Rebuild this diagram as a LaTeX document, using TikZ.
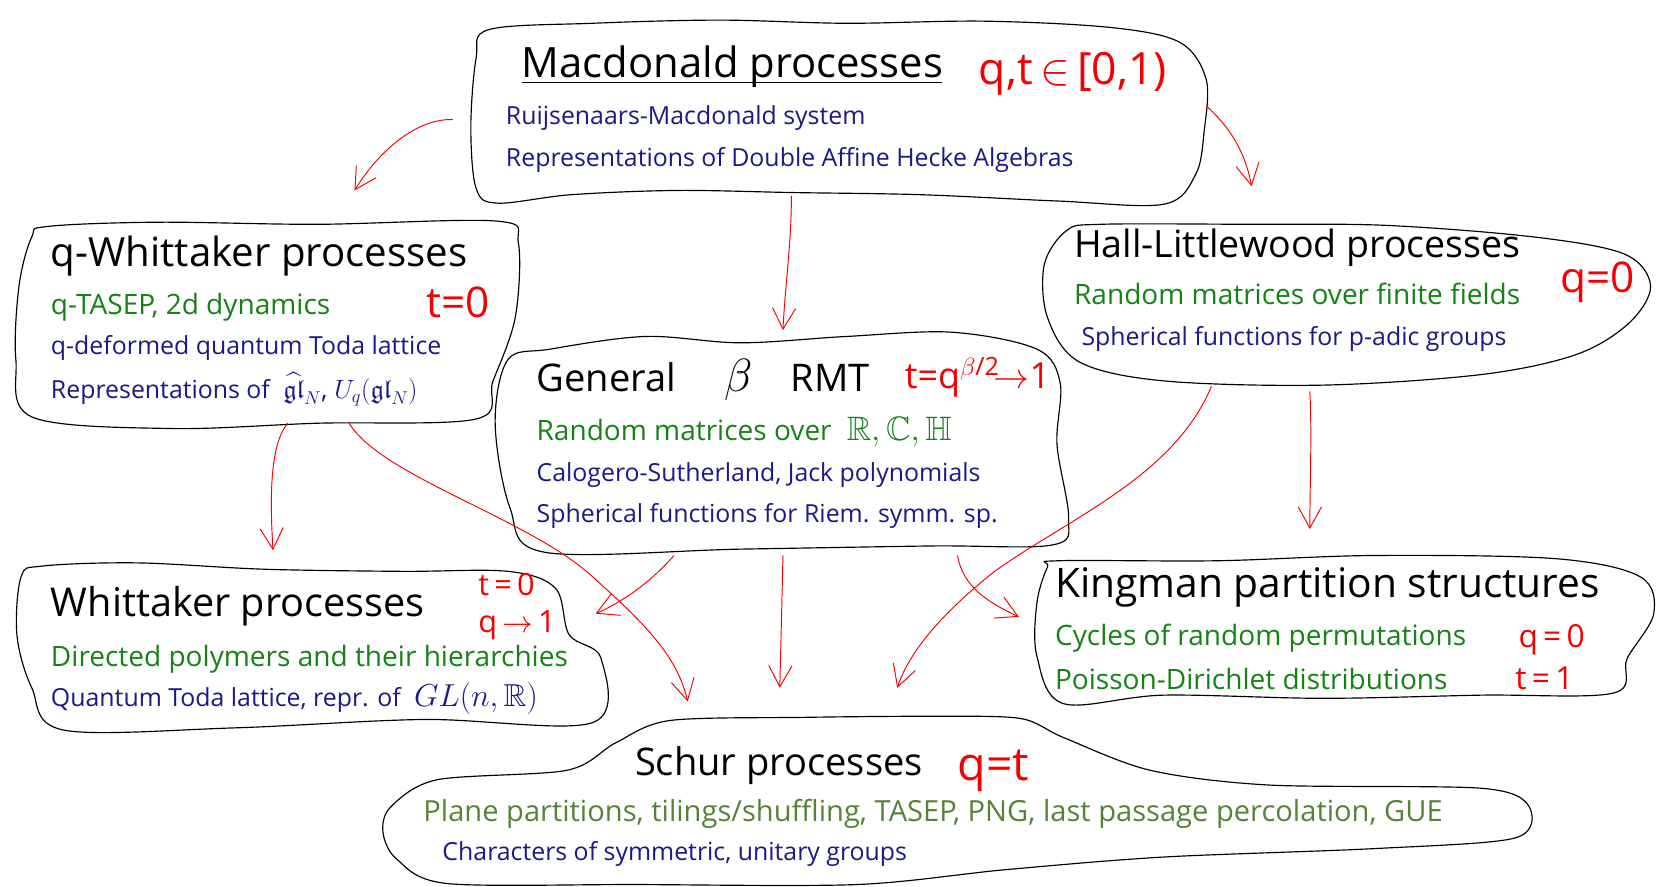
\RequirePackage{fix-cm}
\documentclass[tikz,border=0pt]{standalone}
\usepackage{amssymb,amsfonts}
\DeclareFontFamily{U}{msb}{}
\DeclareFontShape{U}{msb}{m}{n}{<->msbm10}{}
\DeclareFontFamily{U}{euf}{}
\DeclareFontShape{U}{euf}{m}{n}{<->eufm10}{}
\usepackage{fontspec}
\setmainfont{Open Sans}
\usetikzlibrary{arrows.meta}
\definecolor{tgreen}{RGB}{20,130,20}
\definecolor{tblue}{RGB}{25,25,135}
\definecolor{tolive}{RGB}{85,130,55}
\definecolor{tred}{RGB}{245,0,0}
\begin{document}
\begin{tikzpicture}[x=1pt,y=-1pt,
  blob/.style={draw=black, line width=1.1pt},
  ttl/.style={anchor=base west, inner sep=0pt, text=black, font=\fontsize{36}{42}\selectfont},
  gtx/.style={anchor=base west, inner sep=0pt, text=tgreen, font=\fontsize{26.5}{30}\selectfont},
  btx/.style={anchor=base west, inner sep=0pt, text=tblue, font=\fontsize{23.5}{28}\selectfont},
  rtx/.style={anchor=base west, inner sep=0pt, text=tred, font=\fontsize{40}{46}\selectfont},
  conn/.style={draw=tred, line width=0.9pt, -{Straight Barb[length=20pt,width=22pt,line width=0.9pt]}}]
\useasboundingbox (0,0) rectangle (1568,838);

% ---------- boxes ----------
\draw[blob] plot[smooth cycle, tension=0.55] coordinates {
 (462,28) (560,22) (680,19) (800,22) (930,20) (1050,26) (1115,40) (1140,75) (1138,125) (1130,165) (1100,193)
 (1000,190) (870,184) (750,182) (640,180) (540,184) (470,192) (450,178) (445,120) (450,55)};
\draw[blob] plot[smooth cycle, tension=0.55] coordinates {
 (45,214) (150,210) (300,212) (470,209) (490,230) (487,300) (466,360) (450,396)
 (300,400) (160,405) (30,394) (15,340) (18,270) (30,224)};
\draw[blob] plot[smooth cycle, tension=0.55] coordinates {
 (1040,212) (1180,212) (1310,213) (1450,224) (1535,240) (1560,270) (1540,305) (1490,335)
 (1400,354) (1250,364) (1100,360) (1020,342) (990,300) (987,250) (1008,218)};
\draw[blob] plot[smooth cycle, tension=0.55] coordinates {
 (520,330) (610,318) (700,324) (800,318) (900,314) (980,330) (1002,362) (999,420) (1010,490) (995,515)
 (880,516) (700,519) (515,522) (482,480) (468,400) (480,340)};
\draw[blob] plot[smooth cycle, tension=0.55] coordinates {
 (40,535) (130,532) (250,538) (380,540) (480,540) (525,556) (538,600) (568,622) (560,683)
 (400,680) (220,688) (60,690) (30,650) (16,600) (20,545)};
\draw[blob] plot[smooth cycle, tension=0.55] coordinates {
 (1000,530) (1150,530) (1300,525) (1470,528) (1550,545) (1563,580) (1538,622) (1525,655)
 (1400,657) (1250,660) (1100,657) (1005,665) (980,620) (980,570) (990,536)};
\draw[blob] plot[smooth cycle, tension=0.5] coordinates {
 (633,681) (760,678) (880,677) (964,679) (1005,697) (1087,728) (1200,742) (1400,745) (1445,762) (1432,792)
 (1300,802) (1100,810) (950,822) (810,836) (600,836) (422,835) (375,812) (362,787) (369,763) (413,737)
 (536,728) (582,702)};

% ---------- texts ----------
\node[ttl, font=\fontsize{39.5}{44}\selectfont] (mact) at (493,73) {Macdonald processes};
\draw[line width=1.3pt] (mact.base west) ++(0,5) -- ++(397,0);
\node[rtx, font=\fontsize{42}{48}\selectfont] (macr) at (925,80) {q,t\,$\in$\,[0,1)};
\node[btx] (mac1) at (478,118) {Ruijsenaars-Macdonald system};
\node[btx] (mac2) at (478,157) {Representations of Double Affine Hecke Algebras};

\node[ttl, font=\fontsize{38}{44}\selectfont] (qwt) at (48,252) {q-Whittaker processes};
\node[rtx] (qwr) at (403,300) {t=0};
\node[gtx] (qw1) at (48,297) {q-TASEP, 2d dynamics};
\node[btx] (qw2) at (48,335) {q-deformed quantum Toda lattice};
\node[btx] (qw3) at (48,377) {Representations of \;{\fontsize{25}{28}\selectfont$\widehat{\mathfrak{gl}}_N$, $U_q(\mathfrak{gl}_N)$}};

\node[ttl, font=\fontsize{35.5}{42}\selectfont] (hlt) at (1015,243) {Hall-Littlewood processes};
\node[rtx] (hlr) at (1475,276) {q=0};
\node[gtx] (hl1) at (1015,288) {Random matrices over finite fields};
\node[btx] (hl2) at (1022,327) {Spherical functions for p-adic groups};

\node[ttl] (gent) at (507,370) {General \quad{\fontsize{44}{48}\selectfont$\beta$}\quad RMT};
\node[rtx, font=\fontsize{34}{40}\selectfont] (genr) at (855,367) {t=q\textsuperscript{$\beta$/2}$\!\rightarrow$1};
\node[gtx] (gen1) at (507,416) {Random matrices over \;{\fontsize{32}{36}\selectfont$\mathbb{R},\mathbb{C},\mathbb{H}$}};
\node[btx] (gen2) at (507,455) {Calogero-Sutherland, Jack polynomials};
\node[btx] (gen3) at (507,494) {Spherical functions for Riem. symm. sp.};

\node[ttl, font=\fontsize{37.5}{42}\selectfont] (wht) at (48,583) {Whittaker processes};
\node[rtx, font=\fontsize{29}{32}\selectfont] (whr1) at (452,563) {t\,=\,0};
\node[rtx, font=\fontsize{29}{32}\selectfont] (whr2) at (452,598) {q\,$\rightarrow$\,1};
\node[gtx] (wh1) at (48,630) {Directed polymers and their hierarchies};
\node[btx] (wh2) at (48,668) {Quantum Toda lattice, repr. of \;{\fontsize{30}{34}\selectfont$GL(n,\mathbb{R})$}};

\node[ttl, font=\fontsize{38.5}{42}\selectfont] (kit) at (997,565) {Kingman partition structures};
\node[gtx] (ki1) at (997,610) {Cycles of random permutations};
\node[gtx] (ki2) at (997,652) {Poisson-Dirichlet distributions};
\node[rtx, font=\fontsize{30}{34}\selectfont] (kir1) at (1435,612) {q\,=\,0};
\node[rtx, font=\fontsize{30}{34}\selectfont] (kir2) at (1432,652) {t\,=\,1};

\node[ttl] (sct) at (600,733) {Schur processes};
\node[rtx, font=\fontsize{44}{50}\selectfont] (scr) at (905,738) {q=t};
\node[gtx, text=tolive, font=\fontsize{27.5}{32}\selectfont] (sc1) at (400,776) {Plane partitions, tilings/shuffling, TASEP, PNG, last passage percolation, GUE};
\node[btx] (sc2) at (418,813) {Characters of symmetric, unitary groups};

% ---------- connector end points ----------
\coordinate (mqs) at (428,113);  \coordinate (mqe) at (335,180);
\coordinate (mhs) at (1140,100); \coordinate (mhe) at (1183,176);
\coordinate (mgs) at (748,185);  \coordinate (mge) at (740,312);
\coordinate (qws) at (272,400);  \coordinate (qwe) at (258,520);
\coordinate (qss) at (330,400);  \coordinate (qse) at (650,663);
\coordinate (gws) at (637,525);  \coordinate (gwe) at (563,580);
\coordinate (gss) at (740,525);  \coordinate (gse) at (737,650);
\coordinate (gks) at (905,525);  \coordinate (gke) at (963,583);
\coordinate (hss) at (1145,365); \coordinate (hse) at (848,650);
\coordinate (hks) at (1238,370); \coordinate (hke) at (1238,500);

% ---------- connectors ----------
\draw[conn] (mqs) .. controls (395,112) and (360,140) .. (mqe);
\draw[conn] (mhs) .. controls (1160,118) and (1176,140) .. (mhe);
\draw[conn] (mgs) .. controls (748,230) and (742,270) .. (mge);
\draw[conn] (qws) .. controls (255,420) and (255,470) .. (qwe);
\draw[conn] (qss) .. controls (360,450) and (500,490) .. (560,545) .. controls (610,590) and (640,620) .. (qse);
\draw[conn] (gws) .. controls (615,550) and (590,568) .. (gwe);
\draw[conn] (gss) .. controls (739,570) and (738,610) .. (gse);
\draw[conn] (gks) .. controls (910,555) and (935,570) .. (gke);
\draw[conn] (hss) .. controls (1110,450) and (1010,490) .. (940,540) .. controls (890,580) and (860,615) .. (hse);
\draw[conn] (hks) .. controls (1240,410) and (1238,460) .. (hke);
\end{tikzpicture}
\end{document}
